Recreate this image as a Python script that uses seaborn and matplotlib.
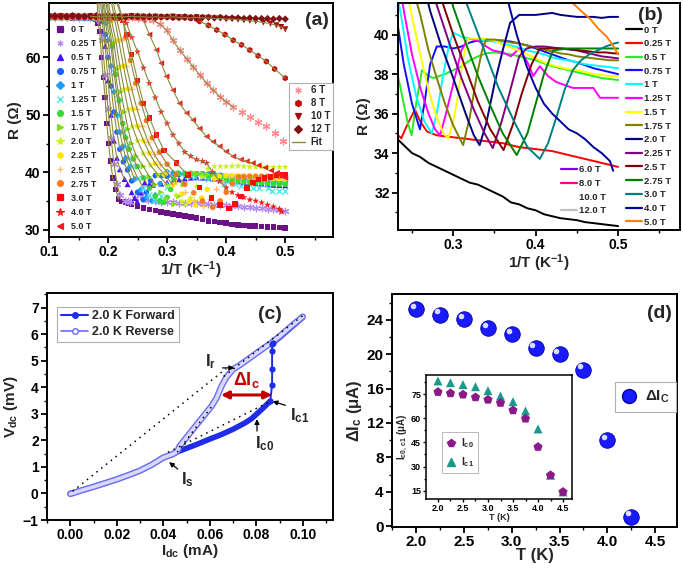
import matplotlib
matplotlib.use('Agg')
import matplotlib.pyplot as plt
import matplotlib.patheffects as pe
from matplotlib.lines import Line2D
from matplotlib.ticker import MultipleLocator, FormatStrFormatter
from matplotlib.transforms import offset_copy
import seaborn as sns

# ---------------------------------------------------------------
# Panel (a)/(b): R vs 1/T for each magnetic field
# ---------------------------------------------------------------
x_0T = [0.10, 0.11, 0.12, 0.13, 0.14, 0.15, 0.16, 0.17, 0.18, 0.183, 0.186, 0.189, 0.192, 0.195, 0.198,
        0.201, 0.204, 0.208, 0.213, 0.218, 0.224, 0.23, 0.235, 0.24, 0.25, 0.26, 0.27, 0.28, 0.29, 0.30,
        0.31, 0.32, 0.33, 0.34, 0.35, 0.36, 0.37, 0.38, 0.39, 0.40, 0.41, 0.42, 0.43, 0.44, 0.45, 0.46,
        0.47, 0.48, 0.49, 0.50]
r_0T = [67.0, 67.1, 67.0, 67.0, 66.9, 67.0, 66.9, 66.8, 66.6, 66.0, 64.5, 60.0, 56.5, 53.0, 48.5,
        45.0, 42.0, 39.0, 37.0, 35.3, 34.9, 34.8, 34.6, 34.4, 34.0, 33.8, 33.5, 33.3, 33.1, 32.9,
        32.7, 32.5, 32.4, 32.2, 32.0, 31.8, 31.5, 31.4, 31.2, 31.1, 30.9, 30.8, 30.7, 30.65, 30.6, 30.5,
        30.45, 30.4, 30.35, 30.3]

x_025T = [0.10, 0.11, 0.12, 0.13, 0.14, 0.15, 0.16, 0.17, 0.18, 0.186, 0.19, 0.195, 0.20, 0.205, 0.21,
          0.215, 0.22, 0.228, 0.233, 0.237, 0.245, 0.2535, 0.26, 0.268, 0.28, 0.29, 0.30, 0.31, 0.32,
          0.33, 0.34, 0.35, 0.36, 0.37, 0.38, 0.39, 0.40, 0.41, 0.42, 0.43, 0.44, 0.45, 0.46, 0.47,
          0.48, 0.49, 0.50]
r_025T = [67.1, 67.0, 67.1, 67.0, 67.0, 66.9, 67.0, 66.9, 66.8, 66.3, 63.0, 57.0, 51.0, 46.0, 41.5,
          38.0, 36.0, 35.0, 34.9, 34.75, 35.5, 36.2, 35.6, 35.1, 34.9, 34.85, 34.8, 34.75, 34.7,
          34.65, 34.6, 34.55, 34.5, 34.4, 34.3, 34.25, 34.2, 34.15, 34.1, 34.0, 33.9, 33.8, 33.7, 33.6,
          33.5, 33.4, 33.3]

x_05T = [0.10, 0.11, 0.12, 0.13, 0.14, 0.15, 0.16, 0.17, 0.18, 0.19, 0.195, 0.20, 0.205, 0.21, 0.215,
         0.22, 0.228, 0.233, 0.24, 0.245, 0.2495, 0.255, 0.262, 0.27, 0.276, 0.29, 0.30, 0.31, 0.32,
         0.33, 0.34, 0.35, 0.36, 0.37, 0.38, 0.39, 0.40, 0.41, 0.42, 0.43, 0.44, 0.45, 0.46, 0.47,
         0.48, 0.49, 0.50]
r_05T = [67.0, 67.1, 67.0, 67.1, 67.0, 67.0, 66.9, 66.9, 66.8, 66.4, 62.0, 56.0, 50.0, 45.5, 42.5,
         40.5, 38.8, 37.9, 36.5, 35.5, 34.9, 36.5, 38.2, 37.9, 37.8, 38.0, 38.2, 38.4, 38.7,
         38.9, 39.05, 39.1, 39.05, 39.0, 38.9, 38.8, 38.7, 38.55, 38.4, 38.3, 38.2, 38.1, 38.0, 37.9,
         37.8, 37.75, 37.7]

x_075T = [0.10, 0.11, 0.12, 0.13, 0.14, 0.15, 0.16, 0.17, 0.18, 0.19, 0.195, 0.20, 0.205, 0.21, 0.215,
          0.22, 0.226, 0.233, 0.24, 0.25, 0.2596, 0.265, 0.272, 0.28, 0.29, 0.30, 0.31, 0.32, 0.33,
          0.34, 0.35, 0.36, 0.37, 0.38, 0.39, 0.40, 0.41, 0.42, 0.43, 0.44, 0.45, 0.46, 0.47, 0.48,
          0.49, 0.50]
r_075T = [67.0, 67.0, 67.1, 67.0, 67.0, 66.9, 67.0, 66.9, 66.8, 66.6, 64.0, 60.0, 55.0, 50.5, 47.0,
          44.0, 41.8, 40.4, 38.5, 36.5, 35.2, 36.5, 38.5, 39.4, 39.4, 39.3, 39.4, 39.6, 39.7,
          39.7, 39.7, 39.7, 39.65, 39.55, 39.45, 39.3, 39.15, 39.0, 38.85, 38.7, 38.6, 38.45, 38.3, 38.2,
          38.1, 38.0]

x_1T = [0.10, 0.11, 0.12, 0.13, 0.14, 0.15, 0.16, 0.17, 0.18, 0.19, 0.196, 0.20, 0.205, 0.21, 0.215,
        0.22, 0.225, 0.23, 0.237, 0.245, 0.255, 0.265, 0.274, 0.28, 0.288, 0.295, 0.30, 0.31, 0.32,
        0.33, 0.34, 0.35, 0.36, 0.37, 0.38, 0.39, 0.40, 0.41, 0.42, 0.43, 0.44, 0.45, 0.46, 0.47,
        0.48, 0.49, 0.50]
r_1T = [67.1, 67.0, 67.0, 67.1, 67.0, 67.0, 66.9, 67.0, 66.9, 66.8, 66.0, 63.0, 58.5, 54.0, 50.0,
        47.0, 44.5, 42.5, 40.9, 38.8, 36.9, 35.6, 35.0, 36.0, 38.0, 39.5, 40.1, 39.9, 39.8,
        39.75, 39.7, 39.65, 39.55, 39.45, 39.35, 39.2, 39.1, 39.0, 38.85, 38.75, 38.7, 38.6, 38.5, 38.45,
        38.4, 38.35, 38.3]

x_125T = [0.10, 0.11, 0.12, 0.13, 0.14, 0.15, 0.16, 0.17, 0.18, 0.19, 0.198, 0.205, 0.21, 0.215, 0.22,
          0.225, 0.23, 0.235, 0.241, 0.25, 0.26, 0.27, 0.278, 0.284, 0.29, 0.30, 0.31, 0.318, 0.33,
          0.34, 0.348, 0.36, 0.37, 0.38, 0.39, 0.397, 0.405, 0.415, 0.425, 0.435, 0.445, 0.455, 0.47,
          0.478, 0.49, 0.50]
r_125T = [67.0, 67.1, 67.0, 67.0, 67.1, 67.0, 66.9, 67.0, 66.9, 66.9, 66.3, 62.0, 57.5, 53.5, 50.0,
          47.0, 44.5, 42.5, 41.0, 39.0, 37.3, 36.0, 35.2, 34.9, 35.8, 37.5, 39.2, 39.8, 39.7,
          39.4, 39.2, 39.1, 38.9, 39.3, 38.6, 37.9, 38.4, 37.9, 37.6, 37.45, 37.3, 37.3, 37.3,
          36.8, 36.8, 36.8]

x_15T = [0.10, 0.11, 0.12, 0.13, 0.14, 0.15, 0.16, 0.17, 0.18, 0.19, 0.20, 0.207, 0.213, 0.219, 0.225,
         0.23, 0.236, 0.243, 0.2495, 0.26, 0.27, 0.28, 0.288, 0.294, 0.30, 0.306, 0.312, 0.318, 0.33,
         0.34, 0.35, 0.36, 0.37, 0.38, 0.39, 0.40, 0.41, 0.42, 0.43, 0.44, 0.45, 0.46, 0.47, 0.48,
         0.49, 0.50]
r_15T = [67.0, 67.0, 67.1, 67.0, 67.0, 67.1, 67.0, 66.9, 67.0, 66.8, 66.6, 62.0, 57.0, 52.5, 48.5,
         46.0, 44.0, 42.3, 41.0, 39.0, 37.2, 35.8, 35.0, 34.75, 35.6, 37.0, 38.8, 39.8, 39.8,
         39.8, 39.7, 39.5, 39.35, 39.2, 39.0, 38.8, 38.6, 38.45, 38.35, 38.25, 38.2, 38.1, 38.0, 37.95,
         37.9, 37.9]

x_175T = [0.10, 0.11, 0.12, 0.13, 0.14, 0.15, 0.16, 0.17, 0.18, 0.19, 0.20, 0.203, 0.21, 0.216, 0.222,
          0.228, 0.234, 0.24, 0.248, 0.26, 0.27, 0.28, 0.29, 0.30, 0.312, 0.32, 0.328, 0.335, 0.34,
          0.35, 0.36, 0.37, 0.38, 0.39, 0.40, 0.41, 0.42, 0.43, 0.44, 0.45, 0.46, 0.47, 0.48, 0.49, 0.50]
r_175T = [67.0, 67.1, 67.0, 67.0, 67.0, 67.1, 67.0, 67.0, 66.9, 66.9, 66.8, 66.2, 62.5, 58.0, 54.0,
          50.5, 47.5, 45.0, 42.8, 41.0, 39.2, 37.8, 36.5, 35.4, 34.4, 35.8, 37.8, 39.2, 39.75,
          39.75, 39.7, 39.6, 39.55, 39.45, 39.35, 39.25, 39.15, 39.05, 39.0, 38.9, 38.85, 38.8, 38.75, 38.7, 38.7]

x_2T = [0.10, 0.11, 0.12, 0.13, 0.14, 0.15, 0.16, 0.17, 0.18, 0.19, 0.20, 0.206, 0.213, 0.22, 0.227,
        0.234, 0.241, 0.25, 0.26, 0.272, 0.285, 0.30, 0.315, 0.325, 0.332, 0.34, 0.35, 0.36, 0.369,
        0.38, 0.39, 0.40, 0.41, 0.42, 0.43, 0.44, 0.45, 0.46, 0.47, 0.48, 0.49, 0.50]
r_2T = [67.1, 67.0, 67.0, 67.0, 67.1, 67.0, 67.0, 67.0, 66.9, 67.0, 66.9, 66.4, 63.0, 58.5, 54.5,
        51.0, 48.0, 45.5, 43.2, 41.2, 39.5, 37.8, 36.0, 34.9, 34.4, 35.5, 37.5, 39.2, 40.6,
        41.0, 41.0, 41.0, 41.05, 41.1, 41.0, 40.95, 40.9, 40.9, 40.9, 40.85, 40.9, 40.9]

x_225T = [0.10, 0.11, 0.12, 0.13, 0.14, 0.15, 0.16, 0.17, 0.18, 0.19, 0.20, 0.21, 0.218, 0.226, 0.234,
          0.242, 0.25, 0.26, 0.27, 0.28, 0.295, 0.31, 0.325, 0.338, 0.348, 0.358, 0.368, 0.38, 0.389,
          0.40, 0.41, 0.42, 0.43, 0.44, 0.45, 0.46, 0.47, 0.48, 0.49, 0.50]
r_225T = [67.0, 67.0, 67.1, 67.0, 67.0, 67.0, 67.1, 67.0, 66.9, 67.0, 66.9, 66.7, 63.0, 58.5, 54.5,
          51.0, 48.0, 45.5, 43.3, 41.5, 39.6, 37.8, 36.2, 35.0, 34.25, 35.5, 37.0, 38.9, 39.3,
          39.4, 39.4, 39.35, 39.3, 39.25, 39.2, 39.1, 39.0, 38.9, 38.85, 38.8]

x_25T = [0.10, 0.11, 0.12, 0.13, 0.14, 0.15, 0.16, 0.17, 0.18, 0.19, 0.20, 0.21, 0.215, 0.223, 0.231,
         0.24, 0.249, 0.258, 0.268, 0.278, 0.288, 0.30, 0.315, 0.33, 0.345, 0.361, 0.372, 0.383, 0.395,
         0.405, 0.415, 0.425, 0.435, 0.445, 0.455, 0.465, 0.475, 0.485, 0.495, 0.50]
r_25T = [67.0, 67.1, 67.0, 67.0, 67.0, 67.1, 67.0, 67.0, 67.0, 66.9, 67.0, 66.9, 66.5, 63.0, 58.5,
         54.5, 51.0, 48.0, 45.3, 43.2, 41.5, 40.0, 38.3, 36.6, 35.2, 34.15, 35.4, 37.0, 38.5,
         39.3, 39.3, 39.3, 39.3, 39.25, 39.2, 39.15, 39.1, 39.1, 39.05, 39.05]

x_275T = [0.10, 0.11, 0.12, 0.13, 0.14, 0.15, 0.16, 0.17, 0.18, 0.19, 0.20, 0.21, 0.22, 0.225, 0.23,
          0.238, 0.247, 0.256, 0.265, 0.275, 0.287, 0.30, 0.315, 0.33, 0.345, 0.36, 0.377, 0.39, 0.40,
          0.41, 0.421, 0.43, 0.44, 0.45, 0.46, 0.47, 0.48, 0.49, 0.50]
r_275T = [67.0, 67.0, 67.1, 67.0, 67.0, 67.0, 67.1, 67.0, 67.0, 66.9, 67.0, 66.9, 66.9, 66.6, 63.5,
          59.5, 55.5, 52.0, 49.0, 46.0, 43.5, 41.4, 39.6, 37.9, 36.4, 35.0, 33.9, 35.0, 36.5,
          38.0, 39.2, 39.25, 39.3, 39.3, 39.3, 39.3, 39.3, 39.3, 39.3]

x_3T = [0.10, 0.11, 0.12, 0.13, 0.14, 0.15, 0.16, 0.17, 0.18, 0.19, 0.20, 0.21, 0.22, 0.225, 0.232,
        0.24, 0.25, 0.26, 0.27, 0.282, 0.295, 0.316, 0.335, 0.355, 0.375, 0.39, 0.405, 0.415, 0.425,
        0.435, 0.445, 0.455, 0.465, 0.475, 0.485, 0.495, 0.50]
r_3T = [67.0, 67.1, 67.0, 67.0, 67.0, 67.1, 67.0, 67.0, 67.0, 67.0, 66.9, 67.0, 66.9, 66.5, 64.0,
        60.5, 56.0, 52.0, 49.5, 46.5, 43.8, 41.6, 39.5, 37.3, 35.5, 34.3, 33.7, 34.5, 35.8,
        37.2, 38.2, 38.7, 39.0, 39.2, 39.4, 39.55, 39.6]

x_4T = [0.10, 0.11, 0.12, 0.13, 0.14, 0.15, 0.16, 0.17, 0.18, 0.19, 0.20, 0.21, 0.22, 0.231, 0.24,
        0.25, 0.26, 0.27, 0.28, 0.29, 0.30, 0.31, 0.32, 0.33, 0.34, 0.35, 0.36, 0.367, 0.377,
        0.389, 0.40, 0.41, 0.42, 0.43, 0.44, 0.45, 0.46, 0.47, 0.48, 0.49, 0.494]
r_4T = [67.0, 67.0, 67.0, 67.1, 67.0, 67.0, 67.0, 67.1, 67.0, 67.0, 67.0, 66.9, 66.9, 66.0, 63.5,
        61.0, 58.2, 55.5, 53.0, 50.5, 48.5, 46.5, 45.0, 43.5, 42.8, 42.2, 41.9, 41.6, 40.0,
        38.4, 37.3, 36.5, 36.0, 35.6, 35.2, 35.0, 34.7, 34.3, 34.0, 33.6, 33.1]

x_5T = [0.10, 0.11, 0.12, 0.13, 0.14, 0.15, 0.16, 0.17, 0.18, 0.19, 0.20, 0.21, 0.22, 0.23, 0.24,
        0.25, 0.26, 0.27, 0.282, 0.29, 0.299, 0.31, 0.321, 0.333, 0.344, 0.355, 0.367, 0.378, 0.389,
        0.40, 0.412, 0.425, 0.435, 0.445, 0.455, 0.466, 0.476, 0.486, 0.493, 0.50]
r_5T = [67.0, 67.0, 67.1, 67.0, 67.0, 67.0, 67.1, 67.0, 67.0, 67.0, 67.0, 66.9, 67.0, 66.9, 66.9,
        66.8, 66.5, 64.0, 61.3, 59.0, 56.7, 54.3, 52.0, 50.3, 49.1, 47.6, 46.2, 45.3, 44.5,
        43.6, 42.75, 42.2, 41.9, 41.6, 41.2, 40.8, 40.3, 39.9, 39.5, 39.0]

x_6T = [0.10, 0.11, 0.12, 0.13, 0.14, 0.15, 0.16, 0.17, 0.18, 0.19, 0.20, 0.21, 0.22, 0.23, 0.24,
        0.25, 0.26, 0.27, 0.276, 0.288, 0.299, 0.31, 0.321, 0.333, 0.344, 0.355, 0.367, 0.378, 0.389,
        0.40, 0.412, 0.426, 0.44, 0.454, 0.468, 0.482, 0.497]
r_6T = [67.0, 67.1, 67.0, 67.0, 67.0, 67.1, 67.0, 67.0, 67.0, 67.1, 67.0, 67.0, 67.0, 66.9, 67.0,
        66.9, 66.9, 66.8, 66.5, 65.8, 64.8, 63.0, 61.3, 59.8, 58.4, 57.0, 55.5, 54.3, 53.2,
        52.3, 51.4, 50.5, 49.7, 48.8, 48.0, 46.8, 45.4]

x_8T = [0.10, 0.11, 0.12, 0.13, 0.14, 0.15, 0.16, 0.17, 0.18, 0.19, 0.20, 0.21, 0.22, 0.23, 0.24,
        0.25, 0.26, 0.27, 0.28, 0.29, 0.30, 0.31, 0.32, 0.33, 0.34, 0.35, 0.355, 0.37, 0.384,
        0.398, 0.412, 0.426, 0.44, 0.454, 0.468, 0.482, 0.50]
r_8T = [67.1, 67.0, 67.1, 67.0, 67.1, 67.0, 67.0, 67.1, 67.0, 67.0, 67.1, 67.0, 67.0, 67.0, 67.1,
        67.0, 67.0, 67.0, 66.9, 67.0, 67.0, 66.9, 66.9, 66.9, 66.8, 66.7, 66.3, 65.6, 64.8,
        64.0, 63.0, 62.2, 61.3, 60.3, 59.3, 58.0, 56.4]

x_10T = [0.10, 0.11, 0.12, 0.13, 0.14, 0.15, 0.16, 0.17, 0.18, 0.19, 0.20, 0.21, 0.22, 0.23, 0.24,
         0.25, 0.26, 0.27, 0.28, 0.29, 0.30, 0.31, 0.32, 0.33, 0.34, 0.35, 0.36, 0.37, 0.38, 0.39,
         0.40, 0.41, 0.42, 0.43, 0.44, 0.45, 0.463, 0.475, 0.485, 0.493, 0.50]
r_10T = [67.2, 67.1, 67.2, 67.1, 67.2, 67.1, 67.1, 67.2, 67.1, 67.1, 67.2, 67.1, 67.1, 67.1, 67.2,
         67.1, 67.1, 67.0, 67.1, 67.0, 67.0, 67.1, 67.0, 67.0, 66.9, 67.0, 66.9, 66.9, 66.8, 66.8,
         66.7, 66.7, 66.6, 66.5, 66.4, 66.3, 66.1, 65.9, 65.6, 65.3, 64.9]

x_12T = [0.10, 0.11, 0.12, 0.13, 0.14, 0.15, 0.16, 0.17, 0.18, 0.19, 0.20, 0.21, 0.22, 0.23, 0.24,
         0.25, 0.26, 0.27, 0.28, 0.29, 0.30, 0.31, 0.32, 0.33, 0.34, 0.35, 0.36, 0.37, 0.38, 0.39,
         0.40, 0.41, 0.42, 0.43, 0.44, 0.45, 0.46, 0.47, 0.48, 0.49, 0.50]
r_12T = [67.2, 67.3, 67.2, 67.2, 67.3, 67.2, 67.2, 67.2, 67.3, 67.2, 67.2, 67.2, 67.2, 67.1, 67.2,
         67.2, 67.1, 67.2, 67.1, 67.1, 67.1, 67.1, 67.0, 67.1, 67.0, 67.0, 67.0, 67.0, 66.9, 67.0,
         66.9, 66.9, 66.9, 66.8, 66.9, 66.8, 66.8, 66.8, 66.7, 66.8, 66.7]

fields_a = ['0 T', '0.25 T', '0.5 T', '0.75 T', '1 T', '1.25 T', '1.5 T', '1.75 T', '2.0 T',
            '2.25 T', '2.5 T', '2.75 T', '3.0 T', '4.0 T', '5.0 T', '6 T', '8 T', '10 T', '12 T']
fields_b = ['0 T', '0.25 T', '0.5 T', '0.75 T', '1 T', '1.25 T', '1.5 T', '1.75 T', '2.0 T',
            '2.25 T', '2.5 T', '2.75 T', '3.0 T', '4.0 T', '5.0 T', '6.0 T', '8.0 T', '10.0 T', '12.0 T']
x_all = [x_0T, x_025T, x_05T, x_075T, x_1T, x_125T, x_15T, x_175T, x_2T, x_225T, x_25T, x_275T,
         x_3T, x_4T, x_5T, x_6T, x_8T, x_10T, x_12T]
r_all = [r_0T, r_025T, r_05T, r_075T, r_1T, r_125T, r_15T, r_175T, r_2T, r_225T, r_25T, r_275T,
         r_3T, r_4T, r_5T, r_6T, r_8T, r_10T, r_12T]

# fit ranges (1/T) for the olive fit lines in panel (a); fit_top_x: where the fit leaves the top
fit_lo = [0.183, 0.186, 0.19, 0.195, 0.196, 0.198, 0.207, 0.203, 0.206, 0.218, 0.215, 0.225, 0.225,
          0.231, 0.26, 0.276, 0.355, 0.17]
fit_hi = [0.218, 0.22, 0.228, 0.24, 0.245, 0.26, 0.27, 0.28, 0.30, 0.31, 0.315, 0.33, 0.335,
          0.405, 0.445, 0.412, 0.50, 0.50]
fit_top_x = [0.1815, 0.184, 0.187, 0.189, 0.191, 0.193, 0.196, 0.198, 0.200, 0.205, 0.208, 0.213, 0.216]

# ---------------------------------------------------------------
# Panel (c): I-V hysteresis at 2.0 K
# ---------------------------------------------------------------
fwd_low_i = [0.000, 0.005, 0.010, 0.015, 0.020, 0.025, 0.030, 0.035, 0.040, 0.044, 0.047, 0.050,
             0.055, 0.060, 0.065, 0.070, 0.075, 0.078, 0.080, 0.083, 0.086]
fwd_low_v = [0.00, 0.12, 0.25, 0.39, 0.53, 0.69, 0.86, 1.08, 1.35, 1.48, 1.60, 1.70,
             1.87, 2.05, 2.22, 2.42, 2.65, 2.82, 2.98, 3.22, 3.48]
fwd_jump_i = [0.086, 0.0868, 0.0868, 0.0868, 0.0868, 0.0870]
fwd_jump_v = [3.48, 4.10, 4.70, 5.35, 5.62, 5.68]
fwd_up_i = [0.0870, 0.090, 0.095, 0.100]
fwd_up_v = [5.64, 5.84, 6.22, 6.60]
rev_i = [0.100, 0.095, 0.090, 0.087, 0.080, 0.073, 0.070, 0.067, 0.065, 0.0629, 0.0607, 0.058,
         0.054, 0.050, 0.047, 0.046, 0.044, 0.040, 0.035, 0.030, 0.025, 0.020, 0.015, 0.010,
         0.005, 0.000]
rev_v = [6.66, 6.30, 5.92, 5.71, 5.28, 4.84, 4.68, 4.36, 4.03, 3.59, 3.28, 2.99,
         2.55, 2.11, 1.78, 1.58, 1.48, 1.35, 1.08, 0.86, 0.69, 0.53, 0.39, 0.25,
         0.12, -0.02]
guide1_i, guide1_v = [0.001, 0.067], [0.08, 4.70]
guide2_i, guide2_v = [0.042, 0.085], [1.55, 3.42]
guide3_i, guide3_v = [0.046, 0.061], [1.55, 3.30]
guide4_i, guide4_v = [0.066, 0.100], [4.41, 6.70]

# ---------------------------------------------------------------
# Panel (d): Delta Ic vs T, inset Ic0 / Ic1 vs T
# ---------------------------------------------------------------
T_d = [2.0, 2.25, 2.5, 2.75, 3.0, 3.25, 3.5, 3.75, 4.0, 4.25]
dIc = [25.2, 24.6, 24.1, 23.0, 22.3, 20.7, 20.0, 18.2, 10.0, 1.1]
T_in = [2.0, 2.25, 2.5, 2.75, 3.0, 3.25, 3.5, 3.75, 4.0, 4.25, 4.5]
Ic0 = [76.4, 75.6, 74.8, 73.1, 71.6, 69.6, 65.0, 59.8, 42.2, 24.6, 14.2]
Ic1 = [83.3, 82.2, 81.0, 79.7, 77.2, 73.9, 70.4, 64.6, 53.4, 24.6, 14.2]

# ---------------------------------------------------------------
# styles
# ---------------------------------------------------------------
markers_a = ['s', (6, 2, 0), '^', 'o', 'D', 'x', 'o', '>', '*', 'h', '+', 'o', 's', '*', '<',
             (6, 2, 0), 'h', 'v', 'D']
colors_a = ['#6b1386', '#b58af0', '#4a12f5', '#1860ff', '#1f9cff', '#3fe3e8', '#33dd33', '#80dd10',
            '#c8ef1e', '#ffe600', '#ffbb70', '#ff7a1e', '#ff0a0a', '#ee1c1c', '#ee1c1c', '#ff8a8a',
            '#c80a0a', '#a50a0a', '#7d1212']
sizes_a = [16, 22, 18, 16, 11, 16, 16, 18, 28, 18, 24, 16, 16, 28, 18, 24, 20, 20, 14]
colors_b = ['black', '#ff0000', '#22ee22', '#1010ff', '#00ffff', '#ff00ff', '#ffff00', '#808000',
            '#000080', '#800080', '#800000', '#008000', '#008080', '#0000a0', '#ff8000',
            '#8000ff', '#ff0080', 'white', '#c0c0c0']
fit_color = '#8c8a3c'

sns.set_theme(style='ticks')
plt.rcParams['font.family'] = ['Liberation Sans', 'DejaVu Sans']
plt.rcParams.update({
    'font.weight': 'bold',
    'axes.labelweight': 'bold',
    'mathtext.fontset': 'custom',
    'mathtext.rm': 'Liberation Sans:bold',
    'mathtext.it': 'Liberation Sans:bold',
    'mathtext.bf': 'Liberation Sans:bold',
    'mathtext.default': 'bf',
    'axes.linewidth': 1.4,
    'axes.edgecolor': 'black',
    'xtick.color': 'black', 'ytick.color': 'black',
    'xtick.major.width': 1.3, 'ytick.major.width': 1.3,
    'xtick.minor.width': 1.0, 'ytick.minor.width': 1.0,
    'xtick.major.size': 4, 'ytick.major.size': 4,
    'xtick.minor.size': 2.5, 'ytick.minor.size': 2.5,
    'xtick.direction': 'out', 'ytick.direction': 'out',
})

fig = plt.figure(figsize=(6.83, 5.68), dpi=100)
ax_a = fig.add_axes([0.0717, 0.5827, 0.416, 0.412])
ax_b = fig.add_axes([0.5827, 0.595, 0.4129, 0.3996])
ax_c = fig.add_axes([0.0688, 0.0845, 0.4188, 0.3996])
ax_d = fig.add_axes([0.5739, 0.0722, 0.4173, 0.4102])

# ---------------- panel (a) ----------------
for i in range(len(x_all)):
    filled = markers_a[i] not in ('x', '+') and not isinstance(markers_a[i], tuple)
    sns.scatterplot(x=x_all[i], y=r_all[i], ax=ax_a, marker=markers_a[i], color=colors_a[i],
                    s=sizes_a[i], edgecolor=colors_a[i] if not filled else 'none',
                    linewidth=0.9 if not filled else 0, legend=False, zorder=2)

for i in range(len(fit_lo)):
    fx = [x for x in x_all[i] if fit_lo[i] <= x <= fit_hi[i]]
    fr = [r for x, r in zip(x_all[i], r_all[i]) if fit_lo[i] <= x <= fit_hi[i]]
    if i < len(fit_top_x):
        fx = [fit_top_x[i]] + fx
        fr = [70.0] + fr
    sns.lineplot(x=fx, y=fr, ax=ax_a, color=fit_color, linewidth=0.8, sort=False,
                 estimator=None, legend=False, zorder=3)

ax_a.set_xlim(0.1, 0.581)
ax_a.set_ylim(28.7, 69.5)
ax_a.xaxis.set_major_locator(MultipleLocator(0.1))
ax_a.xaxis.set_minor_locator(MultipleLocator(0.05))
ax_a.xaxis.set_major_formatter(FormatStrFormatter('%.1f'))
ax_a.yaxis.set_major_locator(MultipleLocator(10))
ax_a.yaxis.set_minor_locator(MultipleLocator(5))
ax_a.tick_params(labelsize=10, pad=2)
ax_a.set_xlabel('1/T (K$^{-1}$)', fontsize=11, labelpad=0)
ax_a.set_ylabel('R (Ω)', fontsize=11, labelpad=2)
ax_a.text(0.944, 0.925, '(a)', transform=ax_a.transAxes, fontsize=14, ha='center', va='center')

h_low = [Line2D([], [], linestyle='none', marker=markers_a[i], color=colors_a[i],
                markersize=4.2 if markers_a[i] != '*' else 5.5, markeredgewidth=0.9)
         for i in range(15)]
leg1 = ax_a.legend(h_low, fields_a[:15], loc='upper left', bbox_to_anchor=(0.02, 0.91),
                   frameon=False, fontsize=6.5, handlelength=1.0, handletextpad=0.7,
                   labelspacing=0.56, borderaxespad=0, borderpad=0.1)
ax_a.add_artist(leg1)
h_high = [Line2D([], [], linestyle='none', marker=markers_a[i], color=colors_a[i],
                 markersize=4.5, markeredgewidth=0.9) for i in range(15, 19)]
h_high.append(Line2D([], [], color=fit_color, linewidth=1))
leg2 = ax_a.legend(h_high, fields_a[15:] + ['Fit'], loc='upper right', bbox_to_anchor=(1.0, 0.66),
                   frameon=True, fancybox=False, edgecolor='#b0b0b0', framealpha=1, fontsize=7,
                   handlelength=1.3, handletextpad=0.6, labelspacing=0.3, borderaxespad=0,
                   borderpad=0.3)
leg2.get_frame().set_linewidth(0.8)

# ---------------- panel (b) ----------------
for i in range(len(x_all)):
    if colors_b[i] == 'white':
        continue
    sns.lineplot(x=x_all[i], y=r_all[i], ax=ax_b, color=colors_b[i], linewidth=1.4, sort=False,
                 estimator=None, legend=False)
ax_b.set_xlim(0.233, 0.575)
ax_b.set_ylim(30.1, 41.6)
ax_b.xaxis.set_major_locator(MultipleLocator(0.1))
ax_b.xaxis.set_minor_locator(MultipleLocator(0.05))
ax_b.xaxis.set_major_formatter(FormatStrFormatter('%.1f'))
ax_b.yaxis.set_major_locator(MultipleLocator(2))
ax_b.yaxis.set_minor_locator(MultipleLocator(1))
ax_b.tick_params(labelsize=10, pad=2)
ax_b.set_xlabel('1/T (K$^{-1}$)', fontsize=11, labelpad=0)
ax_b.set_ylabel('R (Ω)', fontsize=11, labelpad=2)
ax_b.text(0.894, 0.945, '(b)', transform=ax_b.transAxes, fontsize=14, ha='center', va='center')

hb1 = [Line2D([], [], color=colors_b[i], linewidth=1.6) for i in range(15)]
lb1 = ax_b.legend(hb1, fields_b[:15], loc='upper left', bbox_to_anchor=(0.805, 0.905), frameon=False,
                  fontsize=6.8, handlelength=1.7, handletextpad=0.2, labelspacing=0.5,
                  borderaxespad=0, borderpad=0.1)
ax_b.add_artist(lb1)
hb2 = [Line2D([], [], color=colors_b[i], linewidth=1.6) for i in range(15, 19)]
ax_b.legend(hb2, fields_b[15:], loc='upper left', bbox_to_anchor=(0.575, 0.29), frameon=False,
            fontsize=6.8, handlelength=1.7, handletextpad=0.2, labelspacing=0.5,
            borderaxespad=0, borderpad=0.1)

# ---------------- panel (c) ----------------
for gi, gv in [(guide1_i, guide1_v), (guide2_i, guide2_v), (guide3_i, guide3_v), (guide4_i, guide4_v)]:
    sns.lineplot(x=gi, y=gv, ax=ax_c, color='black', linewidth=1.1, linestyle=(0, (1, 3)),
                 sort=False, estimator=None, legend=False, zorder=5)
sns.lineplot(x=fwd_low_i, y=fwd_low_v, ax=ax_c, color='#1f2de8', linewidth=4, sort=False,
             estimator=None, legend=False, zorder=2)
sns.lineplot(x=fwd_up_i, y=fwd_up_v, ax=ax_c, color='#1f2de8', linewidth=3, sort=False,
             estimator=None, legend=False, zorder=2)
sns.lineplot(x=rev_i, y=rev_v, ax=ax_c, color='#d8d8ff', linewidth=2.6, sort=False,
             estimator=None, legend=False, zorder=3)
ax_c.lines[-1].set_path_effects([pe.Stroke(linewidth=4.6, foreground='#6c6cf0'), pe.Normal()])
sns.lineplot(x=fwd_jump_i, y=fwd_jump_v, ax=ax_c, color='#1f2de8', linewidth=1.4, marker='o',
             markersize=4.5, markeredgewidth=0, sort=False, estimator=None, legend=False, zorder=4)

arr = dict(arrowstyle='-|>', color='black', lw=0.9, mutation_scale=7, shrinkA=0, shrinkB=0)
ax_c.annotate('', xy=(0.0868, 3.71), xytext=(0.0648, 3.71),
              arrowprops=dict(arrowstyle='<|-|>', color='#c00000', lw=2.2, mutation_scale=11,
                              shrinkA=0, shrinkB=0), zorder=6)
ax_c.text(0.0757, 4.28, 'ΔI$_c$', color='#c00000', fontsize=13, ha='center', va='center')
ax_c.text(0.0605, 4.98, 'I$_r$', fontsize=12, ha='center', va='center')
ax_c.annotate('', xy=(0.0705, 4.73), xytext=(0.0655, 4.73), arrowprops=arr)
ax_c.text(0.0985, 2.92, 'I$_{c1}$', fontsize=12, ha='center', va='center')
ax_c.annotate('', xy=(0.0870, 3.47), xytext=(0.0925, 3.32), arrowprops=arr)
ax_c.text(0.0835, 1.88, 'I$_{c0}$', fontsize=12, ha='center', va='center')
ax_c.annotate('', xy=(0.0803, 2.80), xytext=(0.0803, 2.35), arrowprops=arr)
ax_c.text(0.0505, 0.52, 'I$_s$', fontsize=12, ha='center', va='center')
ax_c.annotate('', xy=(0.0425, 1.18), xytext=(0.0462, 0.92), arrowprops=arr)
ax_c.text(0.78, 0.905, '(c)', transform=ax_c.transAxes, fontsize=14, ha='center', va='center')

hc = [Line2D([], [], color='#1f2de8', marker='o', markersize=4, linewidth=1.5),
      Line2D([], [], color='#6c6cf0', marker='o', markersize=4, markerfacecolor='white', linewidth=1.2)]
lc = ax_c.legend(hc, ['2.0 K Forward', '2.0 K Reverse'], loc='upper left',
                 bbox_to_anchor=(0.035, 0.94), frameon=True, fancybox=False, edgecolor='#b0b0b0',
                 framealpha=1, fontsize=9, handlelength=2.2, handletextpad=0.3, labelspacing=0.3,
                 borderaxespad=0, borderpad=0.3)
lc.get_frame().set_linewidth(0.8)

ax_c.set_xlim(-0.01, 0.113)
ax_c.set_ylim(-1.0, 7.55)
ax_c.xaxis.set_major_locator(MultipleLocator(0.02))
ax_c.xaxis.set_minor_locator(MultipleLocator(0.01))
ax_c.xaxis.set_major_formatter(FormatStrFormatter('%.2f'))
ax_c.yaxis.set_major_locator(MultipleLocator(1))
ax_c.yaxis.set_minor_locator(MultipleLocator(0.5))
ax_c.tick_params(labelsize=10, pad=2)
ax_c.set_xlabel('I$_{dc}$ (mA)', fontsize=11, labelpad=0)
ax_c.set_ylabel('V$_{dc}$ (mV)', fontsize=11, labelpad=2)

# ---------------- panel (d) ----------------
sns.scatterplot(x=T_d, y=dIc, ax=ax_d, s=125, color='#1a1aff', edgecolor='#0000a8', linewidth=0.6,
                legend=False, zorder=3)
ax_d.scatter(T_d, dIc, s=16, color='white', alpha=0.85, linewidths=0, zorder=4,
             transform=offset_copy(ax_d.transData, fig=fig, x=-2.3, y=2.3, units='points'))
ax_d.set_xlim(1.745, 4.73)
ax_d.set_ylim(-0.1, 27.0)
ax_d.xaxis.set_major_locator(MultipleLocator(0.5))
ax_d.xaxis.set_minor_locator(MultipleLocator(0.25))
ax_d.xaxis.set_major_formatter(FormatStrFormatter('%.1f'))
ax_d.yaxis.set_major_locator(MultipleLocator(4))
ax_d.yaxis.set_minor_locator(MultipleLocator(2))
ax_d.tick_params(labelsize=11, pad=2)
ax_d.set_xlabel('T (K)', fontsize=12, labelpad=-1)
ax_d.set_ylabel('ΔI$_c$ (μA)', fontsize=12, labelpad=2)
ax_d.text(0.94, 0.918, '(d)', transform=ax_d.transAxes, fontsize=14, ha='center', va='center')
hd = [Line2D([], [], linestyle='none', marker='o', color='#1a1aff', markeredgecolor='#0000a8',
             markersize=10)]
ld = ax_d.legend(hd, ['ΔI$_C$'], loc='upper left', bbox_to_anchor=(0.782, 0.622), frameon=True,
                 fancybox=False, edgecolor='#b0b0b0', framealpha=1, fontsize=11, handlelength=1.0,
                 handletextpad=0.5, borderaxespad=0, borderpad=0.45)
ld.get_frame().set_linewidth(0.8)

ax_in = fig.add_axes([0.6237, 0.1215, 0.2138, 0.2183])
sns.scatterplot(x=T_in, y=Ic0, ax=ax_in, marker='p', s=48, color='#8b1a89', edgecolor='none',
                legend=False, zorder=3)
sns.scatterplot(x=T_in, y=Ic1, ax=ax_in, marker='^', s=42, color='#1a9a8c', edgecolor='none',
                legend=False, zorder=2)
ax_in.set_xlim(1.76, 4.68)
ax_in.set_ylim(9.8, 87.0)
ax_in.xaxis.set_major_locator(MultipleLocator(0.5))
ax_in.xaxis.set_minor_locator(MultipleLocator(0.25))
ax_in.xaxis.set_major_formatter(FormatStrFormatter('%.1f'))
ax_in.yaxis.set_major_locator(MultipleLocator(15))
ax_in.yaxis.set_minor_locator(MultipleLocator(7.5))
ax_in.tick_params(labelsize=6.5, pad=1, length=2.5, width=1)
ax_in.tick_params(which='minor', length=1.5)
for sp in ax_in.spines.values():
    sp.set_linewidth(1.1)
ax_in.set_xlabel('T (K)', fontsize=6.5, labelpad=0)
ax_in.set_ylabel('I$_{c0,\\,c1}$ (μA)', fontsize=7, labelpad=1)
hi = [Line2D([], [], linestyle='none', marker='p', color='#8b1a89', markersize=6),
      Line2D([], [], linestyle='none', marker='^', color='#1a9a8c', markersize=6)]
li = ax_in.legend(hi, ['I$_{c0}$', 'I$_{c1}$'], loc='upper left', bbox_to_anchor=(0.11, 0.54),
                  frameon=True, fancybox=False, edgecolor='#b0b0b0', framealpha=1, fontsize=7.5,
                  handlelength=1.0, handletextpad=0.4, labelspacing=0.5, borderaxespad=0,
                  borderpad=0.4)
li.get_frame().set_linewidth(0.6)

fig.savefig('out.png', dpi=100)
